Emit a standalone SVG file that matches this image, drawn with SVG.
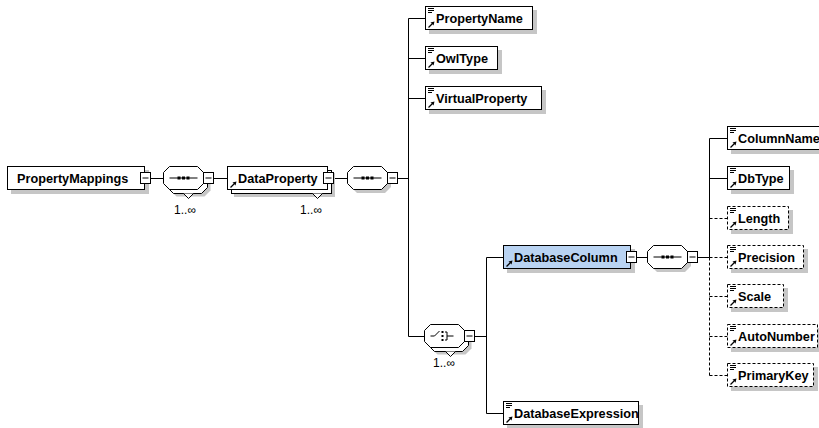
<svg xmlns="http://www.w3.org/2000/svg" xmlns:xlink="http://www.w3.org/1999/xlink" width="819" height="428" viewBox="0 0 819 428">
<style>
.box{fill:#fff;stroke:#000;stroke-width:1}
.sel{fill:#b9d3f2}
.dash{stroke-dasharray:3 2}
.sh{fill:#c6c6c6;stroke:none}
.t{font-family:"Liberation Sans",Arial,sans-serif;font-weight:bold;font-size:12.7px;fill:#000}
.occ{font-family:"Liberation Sans",Arial,sans-serif;font-size:12px;fill:#000}
.ln{stroke:#000;stroke-width:1;fill:none}
</style>
<defs>
<g id="doc"><path d="M0 0.5H6M0 2.5H6M0 4.5H4" stroke="#000" stroke-width="1" fill="none"/></g>
<g id="ref"><path d="M0.5 6.5L4 3" stroke="#000" stroke-width="1.3" fill="none"/><path d="M2.5 1.5L6.5 0.5L5.5 4.5Z" fill="#000"/></g>
<g id="minus"><rect x="0" y="0" width="10" height="11" class="box"/><path d="M2 5.5H8" stroke="#000"/></g>
<path id="oct" d="M6 0H34L40 6V17L34 23H6L0 17V6Z"/>
<g id="seqicon"><path d="M6 11.5H34" stroke="#000"/><rect x="14" y="10" width="3" height="3"/><rect x="18.5" y="10" width="3" height="3"/><rect x="23" y="10" width="3" height="3"/></g>
<g id="choiceicon" stroke="#000" fill="none"><path d="M6 11.5H10L15 6.5"/><rect x="17" y="6.5" width="2" height="2" fill="#000" stroke="none"/><rect x="17" y="10.5" width="2" height="2" fill="#000" stroke="none"/><rect x="17" y="14.5" width="2" height="2" fill="#000" stroke="none"/><path d="M20.5 7.5H22.5V15.5H20.5M22.5 11.5H29"/></g>
</defs>

<g id="connectors" class="ln">
<path d="M150.5 178.5H163.5"/>
<path d="M213.5 178.5H227.5"/>
<path d="M333.5 178.5H347.5"/>
<path d="M397.5 178.5H408.5"/>
<path d="M408.5 18.5V336.5"/>
<path d="M408.5 18.5H425.5M408.5 58.5H425.5M408.5 98.5H425.5M408.5 336.5H424.5"/>
<path d="M474.5 336.5H486.5"/>
<path d="M486.5 257.5V413.5M486.5 257.5H503.5M486.5 413.5H503.5"/>
<path d="M636.5 257.5H647.5"/>
<path d="M697.5 257.5H709.5"/>
<path d="M709.5 138.5V257.5M709.5 138.5H727.5M709.5 178.5H727.5"/>
<path class="dash" d="M709.5 257.5V375.5M709.5 218.5H727.5M709.5 257.5H727.5M709.5 296.5H727.5M709.5 336.5H727.5M709.5 375.5H727.5"/>
</g>

<g id="PropertyMappings">
<rect class="sh" x="11" y="170" width="138" height="24"/>
<rect class="box" x="7.5" y="166.5" width="137" height="23"/>
<text class="t" x="17" y="183">PropertyMappings</text>
<use xlink:href="#minus" x="140.5" y="172.5"/>
</g>

<g id="seq1">
<use xlink:href="#oct" x="170.5" y="173.5" class="sh"/>
<use xlink:href="#oct" x="167.5" y="170.5" class="box"/>
<path d="M183.5 193.5L188.5 198.5L193.5 193.5" class="box"/>
<use xlink:href="#oct" x="163.5" y="166.5" class="box"/>
<use xlink:href="#seqicon" x="163.5" y="166.5"/>
<use xlink:href="#minus" x="203.5" y="172.5"/>
<text class="occ" x="196" y="214" text-anchor="end">1..∞</text>
</g>

<g id="DataProperty">
<rect class="sh" x="234" y="173" width="101" height="24"/>
<rect class="box" x="231.5" y="170.5" width="100" height="23"/>
<path d="M312.5 193.5L317.5 198.5L322.5 193.5" class="box"/>
<rect class="box" x="227.5" y="166.5" width="100" height="23"/>
<use xlink:href="#ref" x="230" y="181"/>
<text class="t" x="238" y="183">DataProperty</text>
<use xlink:href="#minus" x="323.5" y="172.5"/>
<text class="occ" x="322" y="214" text-anchor="end">1..∞</text>
</g>

<g id="seq2">
<use xlink:href="#oct" x="351" y="170" class="sh"/>
<use xlink:href="#oct" x="347.5" y="166.5" class="box"/>
<use xlink:href="#seqicon" x="347.5" y="166.5"/>
<use xlink:href="#minus" x="387.5" y="172.5"/>
</g>

<g id="PropertyName">
<rect class="sh" x="429" y="10" width="108" height="24"/>
<rect class="box" x="425.5" y="6.5" width="107" height="23"/>
<use xlink:href="#doc" x="428" y="8"/><use xlink:href="#ref" x="428" y="21"/>
<text class="t" x="436" y="23">PropertyName</text>
</g>
<g id="OwlType">
<rect class="sh" x="429" y="50" width="73" height="24"/>
<rect class="box" x="425.5" y="46.5" width="72" height="23"/>
<use xlink:href="#doc" x="428" y="48"/><use xlink:href="#ref" x="428" y="61"/>
<text class="t" x="436" y="63">OwlType</text>
</g>
<g id="VirtualProperty">
<rect class="sh" x="429" y="90" width="117" height="24"/>
<rect class="box" x="425.5" y="86.5" width="116" height="23"/>
<use xlink:href="#doc" x="428" y="88"/><use xlink:href="#ref" x="428" y="101"/>
<text class="t" x="436" y="103">VirtualProperty</text>
</g>

<g id="choice">
<use xlink:href="#oct" x="431.5" y="331.5" class="sh"/>
<use xlink:href="#oct" x="428.5" y="328.5" class="box"/>
<path d="M445.5 351.5L450.5 356.5L455.5 351.5" class="box"/>
<use xlink:href="#oct" x="424.5" y="324.5" class="box"/>
<use xlink:href="#choiceicon" x="424.5" y="324.5"/>
<use xlink:href="#minus" x="464.5" y="330.5"/>
<text class="occ" x="455" y="367" text-anchor="end">1..∞</text>
</g>

<g id="DatabaseColumn">
<rect class="sh" x="507" y="249" width="128" height="24"/>
<rect class="box sel" x="503.5" y="245.5" width="127" height="23"/>
<use xlink:href="#ref" x="506" y="260"/>
<text class="t" x="514" y="262">DatabaseColumn</text>
<use xlink:href="#minus" x="626.5" y="251.5"/>
</g>

<g id="DatabaseExpression">
<rect class="sh" x="507" y="405" width="136" height="24"/>
<rect class="box" x="503.5" y="401.5" width="135" height="23"/>
<use xlink:href="#doc" x="506" y="403"/><use xlink:href="#ref" x="506" y="416"/>
<text class="t" x="514" y="418">DatabaseExpression</text>
</g>

<g id="seq3">
<use xlink:href="#oct" x="651" y="249" class="sh"/>
<use xlink:href="#oct" x="647.5" y="245.5" class="box"/>
<use xlink:href="#seqicon" x="647.5" y="245.5"/>
<use xlink:href="#minus" x="687.5" y="251.5"/>
</g>

<g id="ColumnName">
<rect class="sh" x="731" y="130" width="96" height="24"/>
<rect class="box" x="727.5" y="126.5" width="95" height="23"/>
<use xlink:href="#doc" x="730" y="128"/><use xlink:href="#ref" x="730" y="141"/>
<text class="t" x="738" y="143">ColumnName</text>
</g>
<g id="DbType">
<rect class="sh" x="731" y="170" width="63" height="24"/>
<rect class="box" x="727.5" y="166.5" width="62" height="23"/>
<use xlink:href="#doc" x="730" y="168"/><use xlink:href="#ref" x="730" y="181"/>
<text class="t" x="738" y="183">DbType</text>
</g>
<g id="Length">
<rect class="sh" x="731" y="210" width="62" height="24"/>
<rect class="box dash" x="727.5" y="206.5" width="61" height="23"/>
<use xlink:href="#doc" x="730" y="208"/><use xlink:href="#ref" x="730" y="221"/>
<text class="t" x="738" y="223">Length</text>
</g>
<g id="Precision">
<rect class="sh" x="731" y="249" width="77" height="24"/>
<rect class="box dash" x="727.5" y="245.5" width="76" height="23"/>
<use xlink:href="#doc" x="730" y="247"/><use xlink:href="#ref" x="730" y="260"/>
<text class="t" x="738" y="262">Precision</text>
</g>
<g id="Scale">
<rect class="sh" x="731" y="288" width="57" height="24"/>
<rect class="box dash" x="727.5" y="284.5" width="56" height="23"/>
<use xlink:href="#doc" x="730" y="286"/><use xlink:href="#ref" x="730" y="299"/>
<text class="t" x="738" y="301">Scale</text>
</g>
<g id="AutoNumber">
<rect class="sh" x="731" y="328" width="91" height="24"/>
<rect class="box dash" x="727.5" y="324.5" width="90" height="23"/>
<use xlink:href="#doc" x="730" y="326"/><use xlink:href="#ref" x="730" y="339"/>
<text class="t" x="738" y="341">AutoNumber</text>
</g>
<g id="PrimaryKey">
<rect class="sh" x="731" y="367" width="87" height="24"/>
<rect class="box dash" x="727.5" y="363.5" width="86" height="23"/>
<use xlink:href="#doc" x="730" y="365"/><use xlink:href="#ref" x="730" y="378"/>
<text class="t" x="738" y="380">PrimaryKey</text>
</g>
</svg>
